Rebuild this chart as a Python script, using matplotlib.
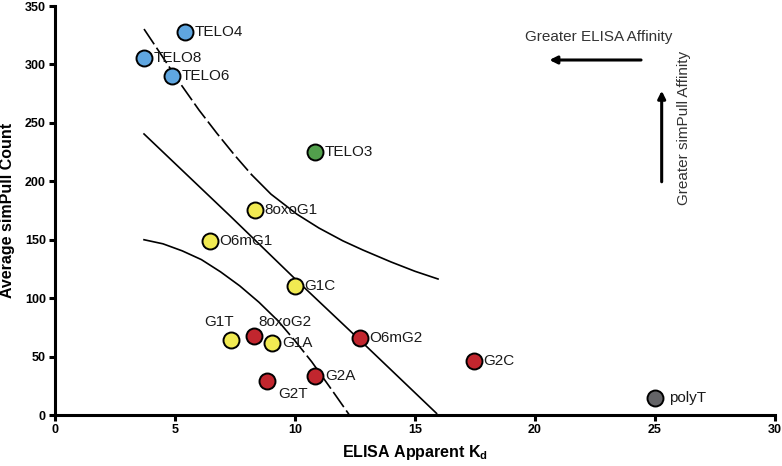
import matplotlib
matplotlib.use("Agg")
import matplotlib.pyplot as plt

plt.rcParams['font.family'] = ['Liberation Sans', 'DejaVu Sans']
plt.rcParams['mathtext.default'] = 'regular'

# sample data: ELISA apparent Kd vs average simPull count
names = ['TELO4', 'TELO8', 'TELO6', 'TELO3', '8oxoG1', 'O6mG1', 'G1C', 'G1T',
         '8oxoG2', 'G1A', 'G2T', 'G2A', 'O6mG2', 'G2C', 'polyT']
kd = [5.42, 3.71, 4.88, 10.83, 8.33, 6.45, 9.99, 7.32,
      8.29, 9.05, 8.83, 10.85, 12.7, 17.46, 25.0]
counts = [327.7, 305.5, 290, 225, 175.4, 149, 110.4, 64,
          67.6, 61.9, 29, 33.4, 65.6, 46.5, 14.3]
groups = ['telo', 'telo', 'telo', 'telo3', 'g1', 'g1', 'g1', 'g1',
          'g2', 'g1', 'g2', 'g2', 'g2', 'g2', 'poly']

# fit line and bands
fit_x = [3.71, 7.29, 10.03, 12.71, 15.9]
fit_y = [240.5, 170.5, 116, 64, 1.4]
upper_x = [3.71, 4.5, 5.21, 6.0, 6.75, 7.5, 8.2, 9.0, 10.07, 11.0, 12.0,
           12.83, 14.0, 15.0, 15.96]
upper_y = [330.3, 306, 284, 261, 241, 222, 205.5, 189, 172, 160, 149,
           141.2, 131, 123, 116.4]
lower_x = [3.71, 4.5, 5.3, 6.1, 6.9, 7.7, 8.5, 9.3, 10.0, 10.7, 11.5, 12.25]
lower_y = [150, 146.5, 140.5, 133, 122.5, 110.5, 96.5, 80.5, 63.5, 45.5, 22.5, 0.5]

colors = {'telo': '#5fa6e0', 'telo3': '#52a04c', 'g1': '#f1ea52',
          'g2': '#c1262e', 'poly': '#646467'}

# label offsets in points (default is to the right)
label_offsets = {'G1T': (-8, 13), '8oxoG2': (3, 10), 'G2T': (8, -9), 'polyT': (10, 0)}

fig = plt.figure(figsize=(7.82, 4.66), dpi=100)
ax = fig.add_axes([0.0703, 0.1094, 0.9207, 0.8777])

ax.plot(fit_x, fit_y, color='black', lw=1.2, zorder=2)

up_dash = [i for i, x in enumerate(upper_x) if x <= 8.2]
up_solid = [i for i, x in enumerate(upper_x) if x >= 8.2]
ax.plot([upper_x[i] for i in up_dash], [upper_y[i] for i in up_dash],
        color='black', lw=1.2, dashes=(11, 2.5), zorder=2)
ax.plot([upper_x[i] for i in up_solid], [upper_y[i] for i in up_solid],
        color='black', lw=1.2, zorder=2)

lo_solid = [i for i, x in enumerate(lower_x) if x <= 9.3]
lo_dash = [i for i, x in enumerate(lower_x) if x >= 9.3]
ax.plot([lower_x[i] for i in lo_solid], [lower_y[i] for i in lo_solid],
        color='black', lw=1.2, zorder=2)
ax.plot([lower_x[i] for i in lo_dash], [lower_y[i] for i in lo_dash],
        color='black', lw=1.2, dashes=(11, 2.5), zorder=2)

for n, x, y, g in zip(names, kd, counts, groups):
    ax.plot(x, y, 'o', ms=11.5, mfc=colors[g], mec='black', mew=1.4, zorder=3)
    dx, dy = label_offsets.get(n, (7, 0))
    ha = 'center' if n == 'G1T' else 'left'
    ax.annotate(n, (x, y), xytext=(dx, dy), textcoords='offset points',
                ha=ha, va='center', fontsize=11, color='#1a1a1a', zorder=4)

# direction arrows
ax.annotate('', xy=(20.6, 303.8), xytext=(24.42, 303.8),
            arrowprops=dict(arrowstyle='-|>', color='black', lw=2.2,
                            mutation_scale=11, shrinkA=0, shrinkB=0))
ax.text(22.67, 323.7, 'Greater ELISA Affinity', ha='center', va='center',
        fontsize=11, color='#333333')
ax.annotate('', xy=(25.28, 277.5), xytext=(25.28, 199.6),
            arrowprops=dict(arrowstyle='-|>', color='black', lw=2.2,
                            mutation_scale=11, shrinkA=0, shrinkB=0))
ax.text(26.2, 246, 'Greater simPull Affinity', ha='center', va='center',
        rotation=90, fontsize=11, color='#333333')

ax.set_xlim(0, 30)
ax.set_ylim(0, 350)
ax.set_xticks(range(0, 31, 5))
ax.set_yticks(range(0, 351, 50))
for s in ['top', 'right']:
    ax.spines[s].set_visible(False)
for s in ['left', 'bottom']:
    ax.spines[s].set_linewidth(2.2)
ax.tick_params(width=2.2, length=4.5, labelsize=9, pad=2)
for lab in ax.get_xticklabels() + ax.get_yticklabels():
    lab.set_fontweight('bold')

ax.set_xlabel(r'ELISA Apparent K$_{d}$', fontsize=11.5, fontweight='bold', labelpad=5)
ax.set_ylabel('Average simPull Count', fontsize=11.5, fontweight='bold', labelpad=7)

fig.savefig('out.png', dpi=100)
